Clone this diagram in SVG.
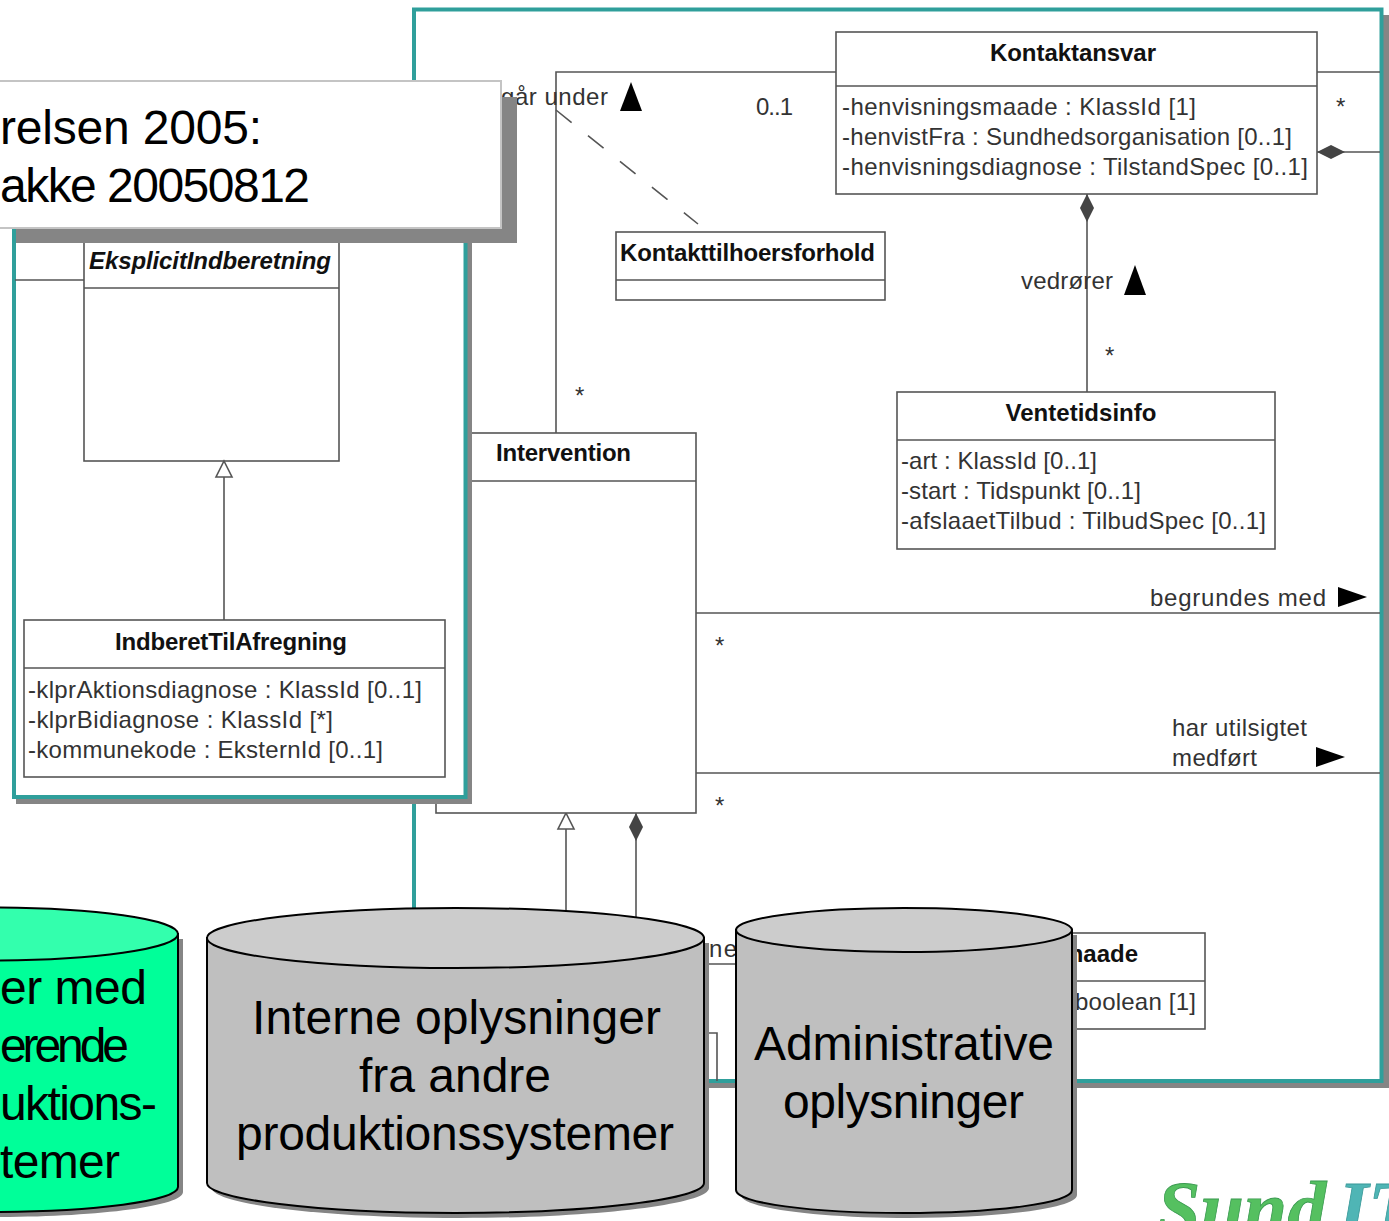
<svg xmlns="http://www.w3.org/2000/svg" width="1389" height="1221" viewBox="0 0 1389 1221">
<style>
.sh{fill:#858585}
.b{fill:#fff;stroke:#555;stroke-width:1.6}
.l{fill:none;stroke:#555;stroke-width:1.6}
.t{font-family:"Liberation Sans",Arial,sans-serif;font-size:24px;fill:#333}
.tb{font-family:"Liberation Sans",Arial,sans-serif;font-size:24px;font-weight:bold;fill:#111}
.big{font-family:"Liberation Sans",Arial,sans-serif;font-size:48px;fill:#000}
.cy{stroke:#000;stroke-width:2}
</style>
<defs>
<path id="dia" d="M0 0L-7 -14L0 -28L7 -14Z" fill="#444"/>
</defs>
<rect width="1389" height="1221" fill="#fff"/>
<g id="frame-main">
<path class="sh" d="M1383 15H1389V1088H419V1083H1383Z"/>
<rect x="414" y="9.500" width="967.500" height="1071.500" fill="#fff" stroke="#2f9f9b" stroke-width="4"/>
</g>
<g id="connectors">
<path class="l" d="M556 433V72H836"/>
<path class="l" d="M556 110L698 224" stroke-dasharray="20 21"/>
<path class="l" d="M1317 72H1380M1317 152H1380"/>
<use href="#dia" transform="translate(1317 152) rotate(90)"/>
<path class="l" d="M1087 194V392"/>
<use href="#dia" transform="translate(1087 194) rotate(180)"/>
<path class="l" d="M696 613H1380M696 773H1380"/>
<path class="l" d="M566 829V920M636 813V920"/>
<path d="M566 813L574 829H558Z" fill="#fff" stroke="#555" stroke-width="1.6"/>
<use href="#dia" transform="translate(636 813) rotate(180)"/>
<path class="l" d="M704 1033H717V1081M704 964H737"/>
</g>
<g id="Kontaktansvar">
<rect class="b" x="836" y="32" width="481" height="162"/>
<path class="l" d="M836 86H1317"/>
<text class="tb" x="1073" y="61" text-anchor="middle" textLength="166">Kontaktansvar</text>
<text class="t" x="842" y="115" textLength="354">-henvisningsmaade : KlassId [1]</text>
<text class="t" x="842" y="145" textLength="450">-henvistFra : Sundhedsorganisation [0..1]</text>
<text class="t" x="842" y="175" textLength="466">-henvisningsdiagnose : TilstandSpec [0..1]</text>
</g>
<g id="Kontakttilhoersforhold">
<rect class="b" x="616" y="232" width="269" height="68"/>
<path class="l" d="M616 280H885"/>
<text class="tb" x="620" y="261" textLength="255">Kontakttilhoersforhold</text>
</g>
<g id="Ventetidsinfo">
<rect class="b" x="897" y="392" width="378" height="157"/>
<path class="l" d="M897 440H1275"/>
<text class="tb" x="1081" y="421" text-anchor="middle" textLength="151">Ventetidsinfo</text>
<text class="t" x="901" y="469" textLength="196">-art : KlassId [0..1]</text>
<text class="t" x="901" y="499" textLength="240">-start : Tidspunkt [0..1]</text>
<text class="t" x="901" y="529" textLength="365">-afslaaetTilbud : TilbudSpec [0..1]</text>
</g>
<g id="Intervention">
<rect class="b" x="436" y="433" width="260" height="380"/>
<path class="l" d="M436 481H696"/>
<text class="tb" x="496" y="461" textLength="135">Intervention</text>
</g>
<g id="labels">
<text class="t" x="501" y="105" textLength="107">går under</text>
<path d="M631 82L642 111H620Z" fill="#000"/>
<text class="t" x="756" y="115" textLength="37">0..1</text>
<text class="t" x="1336" y="115">*</text>
<text class="t" x="1105" y="364">*</text>
<text class="t" x="1021" y="289" textLength="92">vedrører</text>
<path d="M1135 265L1146 295H1124Z" fill="#000"/>
<text class="t" x="575" y="404">*</text>
<text class="t" x="715" y="654">*</text>
<text class="t" x="715" y="814">*</text>
<text class="t" x="1150" y="606" textLength="176">begrundes med</text>
<path d="M1367 597L1338 587V607Z" fill="#000"/>
<text class="t" x="1172" y="736" textLength="135">har utilsigtet</text>
<text class="t" x="1172" y="766" textLength="85">medført</text>
<path d="M1345 757L1316 747V767Z" fill="#000"/>
</g>
<g id="Behandlingsmaade">
<rect class="b" x="1000" y="933" width="205" height="96"/>
<path class="l" d="M1000 981H1205"/>
<text class="tb" x="1138" y="962" text-anchor="end">maade</text>
<text class="t" x="1075" y="1010" textLength="121">boolean [1]</text>
<text class="t" x="709" y="957" textLength="28">ne</text>
</g>
<g id="frame-left">
<path class="sh" d="M467 243H472V804H16V799H467Z"/>
<rect x="14" y="200" width="451.500" height="597" fill="#fff" stroke="#2f9f9b" stroke-width="4"/>
<path class="l" d="M15 280H84"/>
</g>
<g id="EksplicitIndberetning">
<rect class="b" x="84" y="200" width="255" height="261"/>
<path class="l" d="M84 288H339"/>
<text class="tb" x="89" y="269" font-style="italic" textLength="242">EksplicitIndberetning</text>
</g>
<g id="IndberetTilAfregning">
<path class="l" d="M224 477V620"/>
<path d="M224 461L232 477H216Z" fill="#fff" stroke="#555" stroke-width="1.6"/>
<rect class="b" x="24" y="620" width="421" height="157"/>
<path class="l" d="M24 668H445"/>
<text class="tb" x="231" y="650" text-anchor="middle" textLength="232">IndberetTilAfregning</text>
<text class="t" x="28" y="698" textLength="394">-klprAktionsdiagnose : KlassId [0..1]</text>
<text class="t" x="28" y="728" textLength="305">-klprBidiagnose : KlassId [*]</text>
<text class="t" x="28" y="758" textLength="355">-kommunekode : EksternId [0..1]</text>
</g>
<g id="note">
<rect class="sh" x="16" y="97" width="501" height="146"/>
<rect x="-4" y="81" width="505" height="147" fill="#fff" stroke="#c4c4c4" stroke-width="2"/>
<text class="big" x="0" y="144" textLength="262">relsen 2005:</text>
<text class="big" x="0" y="202" textLength="310">akke 20050812</text>
</g>
<g id="db-green">
<path class="sh" d="M-193 939V1192C-193 1206 -109 1217 -5 1217S183 1206 183 1192V939Z"/>
<path class="cy" fill="#00ff99" d="M-198 934V1187C-198 1201 -114 1212 -10 1212S178 1201 178 1187V934Z"/>
<ellipse class="cy" fill="#33ffad" cx="-10" cy="934" rx="188" ry="26.500"/>
<text class="big" x="0" y="1004" textLength="147">er med</text>
<text class="big" x="0" y="1062" textLength="129">erende</text>
<text class="big" x="0" y="1120" textLength="157">uktions-</text>
<text class="big" x="0" y="1178" textLength="120">temer</text>
</g>
<g id="db-interne">
<path class="sh" d="M212 943V1188C212 1204 323 1218 460 1218S709 1204 709 1188V943Z"/>
<path class="cy" fill="#bfbfbf" d="M207 938V1183C207 1199 318 1213 455 1213S704 1199 704 1183V938Z"/>
<ellipse class="cy" fill="#cccccc" cx="455.500" cy="938" rx="248.500" ry="30"/>
<text class="big" x="252" y="1034" textLength="409">Interne oplysninger</text>
<text class="big" x="359" y="1092" textLength="192">fra andre</text>
<text class="big" x="236" y="1150" textLength="438">produktionssystemer</text>
</g>
<g id="db-admin">
<path class="sh" d="M741 935V1195C741 1208 816 1218 909 1218S1077 1208 1077 1195V935Z"/>
<path class="cy" fill="#bfbfbf" d="M736 930V1190C736 1203 811 1213 904 1213S1072 1203 1072 1190V930Z"/>
<ellipse class="cy" fill="#cccccc" cx="904" cy="930" rx="168" ry="22"/>
<text class="big" x="754" y="1060" textLength="300">Administrative</text>
<text class="big" x="783" y="1118" textLength="241">oplysninger</text>
</g>
<g id="logo">
<text x="1157" y="1235" font-family="'Liberation Serif',serif" font-weight="bold" font-style="italic" font-size="78" fill="#55c060" stroke="#3a9a50" stroke-width="0.800">Sund</text>
<text x="1338" y="1235" font-family="'Liberation Serif',serif" font-weight="bold" font-style="italic" font-size="78" fill="#4fb5b5" stroke="#3a9a9a" stroke-width="0.800">IT</text>
</g>
</svg>
